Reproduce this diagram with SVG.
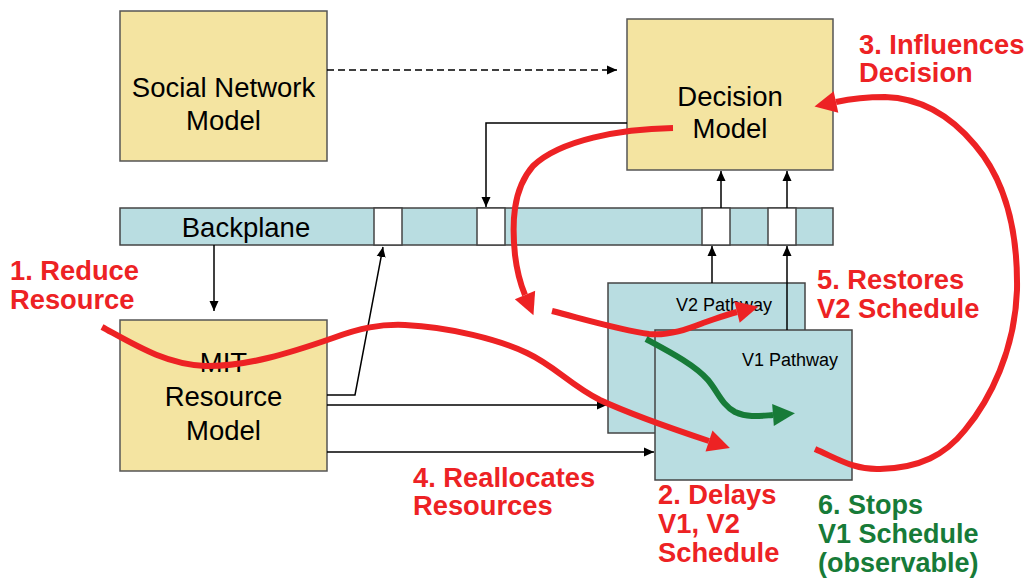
<svg xmlns="http://www.w3.org/2000/svg" width="1031" height="578" viewBox="0 0 1031 578">
<defs>
<style>
.box{fill:#f4e4a1;stroke:#555;stroke-width:1.5}
.blue{fill:#b9dde1;stroke:#444;stroke-width:1.5}
.slot{fill:#fff;stroke:#444;stroke-width:1.5}
.lbl{font-family:"Liberation Sans",Arial,sans-serif;font-size:27.5px;fill:#000;text-anchor:middle}
.small{font-family:"Liberation Sans",Arial,sans-serif;font-size:18px;fill:#000}
.red{font-family:"Liberation Sans",Arial,sans-serif;font-size:27.3px;font-weight:bold;fill:#ed2224}
.grn{font-family:"Liberation Sans",Arial,sans-serif;font-size:27px;font-weight:bold;fill:#177b38}
.conn{fill:none;stroke:#000;stroke-width:1.5}
.rc{fill:none;stroke:#ed2224;stroke-width:6}
.gc{fill:none;stroke:#177b38;stroke-width:6}
</style>
<marker id="ah" markerUnits="userSpaceOnUse" markerWidth="12" markerHeight="12" viewBox="-10 -6 12 12" refX="0" refY="0" orient="auto"><path d="M-10,-4.5 L0,0 L-10,4.5 z" fill="#000"/></marker>
<marker id="rah" markerUnits="userSpaceOnUse" markerWidth="26" markerHeight="26" viewBox="-2 -13 26 26" refX="0" refY="0" orient="auto"><path d="M0,-11 L22,0 L0,11 z" fill="#ed2224"/></marker>
<marker id="gah" markerUnits="userSpaceOnUse" markerWidth="26" markerHeight="26" viewBox="-2 -13 26 26" refX="0" refY="0" orient="auto"><path d="M0,-11 L22,0 L0,11 z" fill="#177b38"/></marker>
</defs>
<rect width="1031" height="578" fill="#fff"/>

<g id="social-network-model">
<rect class="box" x="120" y="11" width="207" height="150"/>
<text class="lbl" x="223.5" y="97">Social Network</text>
<text class="lbl" x="223.5" y="130">Model</text>
</g>

<g id="decision-model">
<rect class="box" x="627" y="19" width="206" height="151"/>
<text class="lbl" x="730" y="106">Decision</text>
<text class="lbl" x="730" y="138">Model</text>
</g>

<g id="backplane">
<rect class="blue" x="120" y="208" width="713" height="37"/>
<rect class="slot" x="374" y="208" width="28" height="37"/>
<rect class="slot" x="477" y="208" width="28" height="37"/>
<rect class="slot" x="702" y="208" width="28" height="37"/>
<rect class="slot" x="768" y="208" width="28" height="37"/>
<text class="lbl" x="246" y="237">Backplane</text>
</g>

<g id="mit-resource-model">
<rect class="box" x="120" y="320" width="207" height="151"/>
<text class="lbl" x="223.5" y="372">MIT</text>
<text class="lbl" x="223.5" y="406">Resource</text>
<text class="lbl" x="223.5" y="440">Model</text>
</g>

<g id="v2-pathway">
<rect class="blue" x="608" y="283" width="197" height="150"/>
<text class="small" x="676" y="311">V2 Pathway</text>
</g>

<g id="v1-pathway">
<rect class="blue" x="655" y="330" width="197" height="150"/>
<text class="small" x="742" y="366">V1 Pathway</text>
</g>

<g id="connectors">
<path class="conn" d="M327,70 L617,70" stroke-dasharray="7,4" marker-end="url(#ah)"/>
<path class="conn" d="M627,123 L486,123 L486,207" marker-end="url(#ah)"/>
<path class="conn" d="M721,208 L721,171" marker-end="url(#ah)"/>
<path class="conn" d="M787,208 L787,171" marker-end="url(#ah)"/>
<path class="conn" d="M712,283 L712,246" marker-end="url(#ah)"/>
<path class="conn" d="M787,330 L787,246" marker-end="url(#ah)"/>
<path class="conn" d="M214,245 L214,311" marker-end="url(#ah)"/>
<path class="conn" d="M327,395 L355,395 L383,247" marker-end="url(#ah)"/>
<path class="conn" d="M327,405 L607,405" marker-end="url(#ah)"/>
<path class="conn" d="M327,452 L654,452" marker-end="url(#ah)"/>
</g>

<g id="annotations">
<path class="rc" d="M102,327 C135,345 165,364 205,366 C245,367 290,353 333,338 C360,328 380,324 405,325 C450,327 500,340 527,353 C555,366 570,385 600,400 C630,414 670,428 709,441" marker-end="url(#rah)"/>
<path class="rc" d="M673,128 C620,129 560,140 533,166 C512,190 512,225 515,255 C517,272 520,283 525,295" marker-end="url(#rah)"/>
<path class="rc" d="M552,311 C580,318 620,330 649,334 C670,336 690,328 703,323 C715,319 725,315 737,312" marker-end="url(#rah)"/>
<path class="rc" d="M815,449 C840,460 855,470 880,469 C920,468 945,455 965,430 C990,400 1015,350 1017,290 C1018,230 1005,180 975,145 C950,115 920,98 885,97 C865,97 850,99 836,102" marker-end="url(#rah)"/>
<path class="gc" d="M646,339 C670,352 695,365 708,380 C718,392 722,405 735,412 C748,418 760,416 773,415" marker-end="url(#gah)"/>

<text class="red" x="10" y="280">1. Reduce</text>
<text class="red" x="10" y="309">Resource</text>
<text class="red" x="859" y="54">3. Influences</text>
<text class="red" x="859" y="82">Decision</text>
<text class="red" x="817" y="289">5. Restores</text>
<text class="red" x="817" y="318">V2 Schedule</text>
<text class="red" x="413" y="487">4. Reallocates</text>
<text class="red" x="413" y="515">Resources</text>
<text class="red" x="658" y="504">2. Delays</text>
<text class="red" x="658" y="533">V1, V2</text>
<text class="red" x="658" y="562">Schedule</text>
<text class="grn" x="818" y="514">6. Stops</text>
<text class="grn" x="818" y="543">V1 Schedule</text>
<text class="grn" x="818" y="572">(observable)</text>
</g>
</svg>
